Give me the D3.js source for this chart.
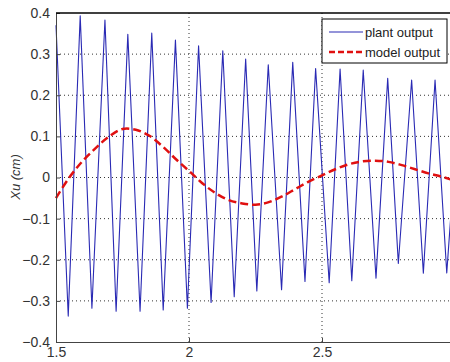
<!DOCTYPE html>
<html>
<head>
<meta charset="utf-8">
<script src="https://cdn.jsdelivr.net/npm/d3@7"></script>
<style>
  body { margin: 0; background: #fff; }
  svg { font-family: "Liberation Sans", Arial, sans-serif; }
</style>
</head>
<body>
<svg id="drawspace" width="450" height="362"></svg>
<script>
// plant output: extrema (time, value)
const plantT = [1.500, 1.546, 1.591, 1.635, 1.684, 1.726, 1.770, 1.816, 1.860, 1.903,
                1.949, 1.994, 2.036, 2.083, 2.127, 2.170, 2.213, 2.255, 2.298, 2.348,
                2.390, 2.436, 2.476, 2.527, 2.568, 2.612, 2.655, 2.703, 2.747, 2.787,
                2.837, 2.881, 2.925, 2.969, 3.000];
const plantV = [0.370, -0.337, 0.393, -0.318, 0.383, -0.325, 0.348, -0.325, 0.351, -0.322,
                0.334, -0.318, 0.320, -0.304, 0.308, -0.290, 0.288, -0.276, 0.274, -0.273,
                0.280, -0.253, 0.265, -0.256, 0.264, -0.251, 0.261, -0.245, 0.241, -0.209,
                0.237, -0.233, 0.237, -0.232, 0.05];
// model output sampled every 0.05 s
const modelT = [1.50, 1.55, 1.60, 1.65, 1.70, 1.75, 1.80, 1.85, 1.90, 1.95, 2.00,
                2.05, 2.10, 2.15, 2.20, 2.25, 2.30, 2.35, 2.40, 2.45, 2.50,
                2.55, 2.60, 2.65, 2.70, 2.75, 2.80, 2.85, 2.90, 2.95, 3.00];
const modelV = [-0.050, 0.000, 0.040, 0.072, 0.100, 0.118, 0.116, 0.102, 0.076, 0.045, 0.016,
                -0.014, -0.038, -0.055, -0.063, -0.066, -0.060, -0.046, -0.028, -0.010, 0.005,
                0.020, 0.032, 0.039, 0.041, 0.038, 0.030, 0.020, 0.010, 0.002, -0.008];
const xTicks = [1.5, 2, 2.5];
const yTicks = [-0.4, -0.3, -0.2, -0.1, 0, 0.1, 0.2, 0.3, 0.4];
const legendNames = ["plant output", "model output"];

let ds = d3.select("#drawspace");
let pLeft = 56, pRight = 455, pTop = 13, pBottom = 342;

let xscale = d3.scaleLinear().domain([1.5, 3]).range([pLeft, pRight]);
let yscale = d3.scaleLinear().domain([-0.4, 0.4]).range([pBottom, pTop]);

// grid
ds.append("g").selectAll("line").data(yTicks.slice(1, -1)).enter().append("line")
  .attr("x1", pLeft).attr("x2", pRight)
  .attr("y1", d => yscale(d)).attr("y2", d => yscale(d))
  .attr("stroke", "#333").attr("stroke-width", 1).attr("stroke-dasharray", "1,3");
ds.append("g").selectAll("line").data(xTicks.slice(1)).enter().append("line")
  .attr("y1", pTop).attr("y2", pBottom)
  .attr("x1", d => xscale(d)).attr("x2", d => xscale(d))
  .attr("stroke", "#333").attr("stroke-width", 1).attr("stroke-dasharray", "1,3");

// plant output
let plantData = plantT.map((t, i) => ({t: t, v: plantV[i]}));
let myLine = d3.line().x(d => xscale(d.t)).y(d => yscale(d.v));
ds.append("path").datum(plantData).attr("d", myLine)
  .attr("fill", "none").attr("stroke", "#2a2ab4").attr("stroke-width", 1.1)
  .attr("stroke-linejoin", "round");

// model output
let modelData = modelT.map((t, i) => ({t: t, v: modelV[i]}));
let myLine1 = d3.line().x(d => xscale(d.t)).y(d => yscale(d.v)).curve(d3.curveCatmullRom);
ds.append("path").datum(modelData).attr("d", myLine1)
  .attr("fill", "none").attr("stroke", "#e01010").attr("stroke-width", 2.5)
  .attr("stroke-dasharray", "8,4");

// axes
let yAxis = ds.append("g").attr("transform", "translate(" + pLeft + ",0)")
  .call(d3.axisLeft(yscale).tickValues(yTicks).tickFormat(d3.format("~g")).tickSizeInner(-4).tickSizeOuter(0).tickPadding(6));
let xAxis = ds.append("g").attr("transform", "translate(0," + pBottom + ")")
  .call(d3.axisBottom(xscale).tickValues(xTicks).tickFormat(d3.format("~g")).tickSizeInner(-4).tickSizeOuter(0).tickPadding(3));
[yAxis, xAxis].forEach(a => {
  a.select(".domain").attr("stroke", "#444");
  a.selectAll(".tick line").attr("stroke", "#444");
  a.selectAll("text").attr("font-size", 14).attr("fill", "#333")
    .attr("font-family", "Liberation Sans, Arial, sans-serif");
});
xAxis.selectAll("text").attr("dy", "0.85em");
ds.append("line").attr("x1", pLeft).attr("x2", pRight).attr("y1", pTop).attr("y2", pTop)
  .attr("stroke", "#000").attr("stroke-width", 1.5);

// y label
ds.append("text").attr("transform", "translate(20,177) rotate(-90)")
  .attr("text-anchor", "middle").attr("font-size", 13).attr("font-style", "italic")
  .attr("fill", "#333").text("Xu (cm)");

// legend
let lg = ds.append("g").attr("transform", "translate(322,19)");
lg.append("rect").attr("width", 125).attr("height", 44)
  .attr("fill", "#fff").attr("stroke", "#000").attr("stroke-width", 1);
lg.selectAll("line").data(legendNames).enter().append("line")
  .attr("x1", 7).attr("x2", 41)
  .attr("y1", (d, i) => 13 + i * 20).attr("y2", (d, i) => 13 + i * 20)
  .attr("stroke", (d, i) => i == 0 ? "#2a2ab4" : "#e01010")
  .attr("stroke-width", (d, i) => i == 0 ? 1.1 : 2.5)
  .attr("stroke-dasharray", (d, i) => i == 0 ? null : "6,3");
lg.selectAll("text").data(legendNames).enter().append("text")
  .attr("x", 43).attr("y", (d, i) => 18 + i * 20)
  .attr("font-size", 13).attr("fill", "#222").text(d => d);
</script>
</body>
</html>
